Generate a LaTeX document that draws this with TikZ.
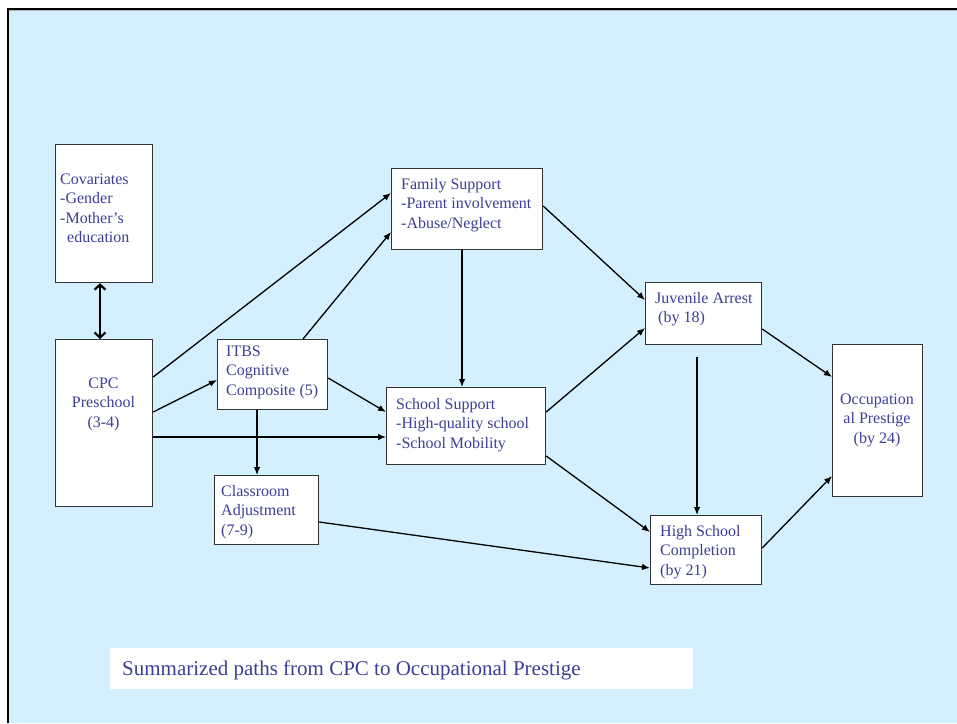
\documentclass[tikz,border=0pt]{standalone}
\usepackage{fontspec}
\setmainfont{Liberation Serif}
\usetikzlibrary{arrows.meta,calc}
\definecolor{bgblue}{RGB}{212,239,253}
\definecolor{txtblue}{RGB}{62,62,150}
\newcommand{\tstr}{\rule{0pt}{12pt}}
\begin{document}
\begin{tikzpicture}[x=1pt,y=-1pt,
  box/.style={draw=black!80, line width=1.2pt, fill=white, inner sep=0pt, anchor=north west},
  txt/.style={text=txtblue, font=\fontsize{16}{19.5}\selectfont, inner sep=0pt, anchor=north west, align=left},
  arr/.style={line width=1.3pt, -{Latex[length=8pt,width=6.5pt]}},
  dbl/.style={line width=2.2pt, {Straight Barb[length=5pt,width=11pt]}-{Straight Barb[length=5pt,width=11pt]}}]
\useasboundingbox (0,0) rectangle (957,723);
% frame
\fill[white] (0,0) rectangle (957,723);
\fill[bgblue] (8,9) rectangle (957,723);
\draw[gray!60, line width=0.8pt] (9,10.8) -- (957,10.8);
\draw[line width=2.2pt] (8,723) -- (8,9) -- (957,9);
% boxes
\node[box, minimum width=97pt, minimum height=138pt] (cov) at (55,144) {};
\node[box, minimum width=97pt, minimum height=167pt] (cpc) at (55,339) {};
\node[box, minimum width=110pt, minimum height=70pt] (itbs) at (217,339) {};
\node[box, minimum width=104pt, minimum height=69pt] (cls) at (214,475) {};
\node[box, minimum width=151pt, minimum height=81pt] (fam) at (391,168) {};
\node[box, minimum width=159pt, minimum height=77pt] (sch) at (386,387) {};
\node[box, minimum width=116pt, minimum height=62pt] (juv) at (645,282) {};
\node[box, minimum width=111pt, minimum height=69pt] (hsc) at (650,515) {};
\node[box, minimum width=90pt, minimum height=152pt] (occ) at (832,344) {};
% texts
\node[txt] (covt) at (60,172) {\tstr Covariates\\-Gender\\-Mother’s\\\hspace*{7pt}education};
\node[txt, anchor=north, align=center] (cpct) at (103.5,376) {\tstr CPC\\Preschool\\(3-4)};
\node[txt] (itbst) at (226,344) {\tstr ITBS\\Cognitive\\Composite (5)};
\node[txt] (clst) at (221,484) {\tstr Classroom\\Adjustment\\(7-9)};
\node[txt] (famt) at (401,177) {\tstr Family Support\\-Parent involvement\\-Abuse/Neglect};
\node[txt] (scht) at (396,397) {\tstr School Support\\-High-quality school\\-School Mobility};
\node[txt] (juvt) at (655,291) {\tstr Juvenile Arrest\\\hspace*{3pt}(by 18)};
\node[txt] (hsct) at (660,524) {\tstr High School\\Completion\\(by 21)};
\node[txt, anchor=north, align=center] (occt) at (877,392) {\tstr Occupation\\al Prestige\\(by 24)};
% caption
\node[fill=white, inner sep=0pt, anchor=north west, minimum width=583pt, minimum height=41pt] (capbox) at (110,648) {};
\node[text=txtblue, font=\fontsize{21}{25}\selectfont, inner sep=0pt, anchor=base west] (cap) at (122,675) {Summarized paths from CPC to Occupational Prestige};
% connectors
\draw[dbl] (cov.south -| 100,0) -- (cpc.north -| 100,0);
\draw[arr] (cpc.east |- 0,377) -- (fam.west |- 0,193);
\draw[arr] (cpc.east |- 0,412) -- (itbs.west |- 0,380);
\draw[arr] (cpc.east |- 0,437) -- (sch.west |- 0,437);
\draw[arr] (itbs.north -| 303,0) -- (fam.west |- 0,232);
\draw[arr] (itbs.east |- 0,378) -- (sch.west |- 0,412);
\draw[arr] (itbs.south -| 257,0) -- (cls.north -| 257,0);
\draw[arr] (fam.south -| 462,0) -- (sch.north -| 462,0);
\draw[arr] (fam.east |- 0,206) -- (juv.west |- 0,300);
\draw[arr] (sch.east |- 0,412) -- (juv.west |- 0,328);
\draw[arr] (sch.east |- 0,456) -- (hsc.west |- 0,532);
\draw[arr] (cls.east |- 0,522) -- (hsc.west |- 0,568);
\draw[arr] ($(juv.south -| 697,0)+(0,12)$) -- (hsc.north -| 697,0);
\draw[arr] (juv.east |- 0,329) -- (occ.west |- 0,377);
\draw[arr] (hsc.east |- 0,548) -- (occ.west |- 0,476);
\end{tikzpicture}
\end{document}
